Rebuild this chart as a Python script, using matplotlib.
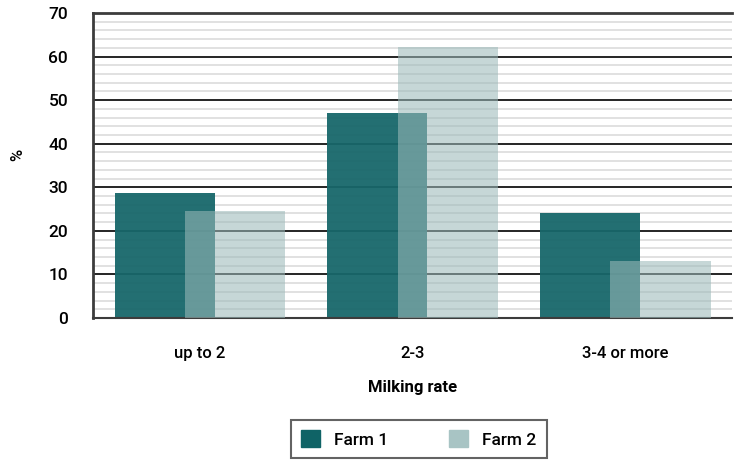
import matplotlib.pyplot as plt
import numpy as np
from matplotlib.ticker import MultipleLocator

plt.rcParams['font.family'] = ['Roboto', 'DejaVu Sans']

categories = ["up to 2", "2-3", "3-4 or more"]
farm1 = [28.7, 47.0, 24.1]
farm2 = [24.5, 62.2, 13.2]

x = np.arange(len(categories))
w = 0.47
off = 0.165

fig = plt.figure(figsize=(7.34, 4.61), dpi=100)
ax = fig.add_axes([0.127, 0.31, 0.87, 0.662])

ax.bar(x - off, farm1, width=w, color="#17676a", alpha=0.95, label="Farm 1", zorder=2)
ax.bar(x + off, farm2, width=w, color="#9bbaba", alpha=0.57, label="Farm 2", zorder=3)

ax.set_xlim(-0.5, 2.5)
ax.set_ylim(0, 70)
ax.yaxis.set_major_locator(MultipleLocator(10))
ax.yaxis.set_minor_locator(MultipleLocator(2))
ax.grid(axis="y", which="minor", color="#dcdcdc", lw=1.2, zorder=0)
ax.grid(axis="y", which="major", color="black", lw=1.2, zorder=1)
ax.set_axisbelow(True)

ax.set_xticks(x)
ax.set_xticklabels(categories, fontsize=12, fontweight="medium")
ax.tick_params(axis="x", length=0, pad=20)
ax.tick_params(axis="y", which="both", length=0, pad=18, labelsize=12.5)
for lbl in ax.get_yticklabels():
    lbl.set_fontweight("medium")

for s in ["top", "left"]:
    ax.spines[s].set_color("#3c3c3c")
    ax.spines[s].set_linewidth(2)
ax.spines["bottom"].set_color("#3c3c3c")
ax.spines["bottom"].set_linewidth(1.5)
ax.spines["right"].set_visible(False)

ax.set_xlabel("Milking rate", fontsize=12, fontweight="bold", labelpad=14)
ax.set_ylabel("%", fontsize=12, fontweight="medium")
ax.yaxis.set_label_coords(-0.106, 0.534)

leg = fig.legend(loc="center", bbox_to_anchor=(0.5705, 0.0475), ncol=2, fontsize=12.5,
                 frameon=True, fancybox=False, edgecolor="#3c3c3c",
                 handlelength=1.1, handleheight=1.1, columnspacing=3.5,
                 borderpad=0.6, handletextpad=0.8, borderaxespad=0)
leg.get_frame().set_linewidth(1.5)
leg.legend_handles[0].set_alpha(1)
leg.legend_handles[0].set_color("#0f6366")
leg.legend_handles[1].set_alpha(1)
leg.legend_handles[1].set_color("#a8c4c4")
for t in leg.get_texts():
    t.set_fontweight("medium")

fig.savefig("out.png", dpi=100)
